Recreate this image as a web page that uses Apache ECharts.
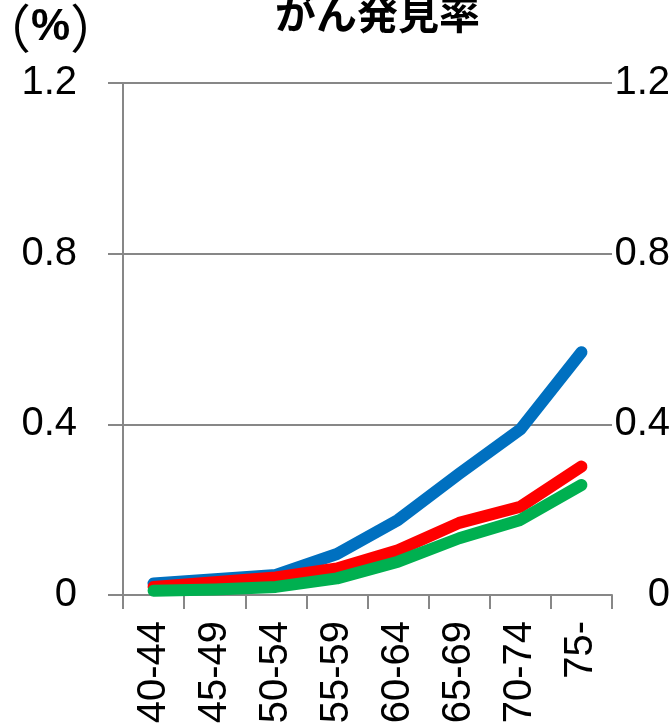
<!DOCTYPE html>
<html>
<head>
<meta charset="utf-8">
<script src="https://cdn.jsdelivr.net/npm/echarts@6/dist/echarts.min.js"></script>
<style>
html,body{margin:0;padding:0;background:#fff;}
#c{width:672px;height:723px;}
</style>
</head>
<body>
<div id="c"></div>
<script>
const categories = ['40-44','45-49','50-54','55-59','60-64','65-69','70-74','75-'];
const blueValues = [0.027,0.037,0.047,0.096,0.176,0.284,0.388,0.569];
const redValues = [0.019,0.030,0.041,0.062,0.105,0.169,0.207,0.301];
const greenValues = [0.010,0.013,0.019,0.039,0.078,0.133,0.176,0.258];
const seriesNames = ['系列1','系列2','系列3'];
const seriesColors = ['#0070C0','#FF0000','#00B050'];
const titleText = 'がん発見率';
const unitOpen = '（';
const unitSign = '%';
const unitClose = '）';

const chart = echarts.init(document.getElementById('c'));
const fmt = v => v === 0 ? '0' : v.toFixed(1);
const axisGray = '#878787';
const labelFont = 'Liberation Sans';

function lineSeries(name, data, color){
  return {
    name: name, type: 'line', data: data, yAxisIndex: 0,
    showSymbol: false, symbol: 'none',
    lineStyle: {width: 12, color: color, cap: 'round', join: 'round'},
    itemStyle: {color: color},
    animation: false
  };
}

chart.setOption({
  animation: false,
  backgroundColor: '#fff',
  title: {
    text: titleText,
    left: 270, top: -12,
    textStyle: {fontFamily: 'Noto Sans CJK JP', fontWeight: 'bold', fontSize: 41, color: '#000'}
  },
  graphic: [{
    type: 'text',
    x: -21, y: 28,
    style: {
      text: '{p|' + unitOpen + '}{b|' + unitSign + '}{p|' + unitClose + '}',
      align: 'left', verticalAlign: 'middle',
      rich: {
        p: {fontFamily: 'Noto Sans CJK JP', fontSize: 52, fill: '#000', verticalAlign: 'middle'},
        b: {fontFamily: 'Liberation Sans', fontWeight: 'bold', fontSize: 44, fill: '#000', verticalAlign: 'middle'}
      }
    }
  }],
  grid: {left: 123, right: 60, top: 83, bottom: 128, containLabel: false, outerBoundsMode: 'none'},
  xAxis: {
    type: 'category',
    data: categories,
    boundaryGap: true,
    axisLine: {show: true, lineStyle: {color: axisGray, width: 2}},
    axisTick: {show: true, length: 14, lineStyle: {color: axisGray, width: 2}},
    axisLabel: {rotate: 90, fontSize: 40, fontFamily: labelFont, color: '#000', margin: 26, interval: 0}
  },
  yAxis: [{
    type: 'value', min: 0, max: 1.2, interval: 0.4, position: 'left',
    axisLine: {show: true, lineStyle: {color: axisGray, width: 2}},
    axisTick: {show: true, length: 15, lineStyle: {color: axisGray, width: 2}},
    axisLabel: {fontSize: 40, fontFamily: labelFont, color: '#000', margin: 46, formatter: fmt},
    splitLine: {show: true, lineStyle: {color: axisGray, width: 2}}
  }, {
    type: 'value', min: 0, max: 1.2, interval: 0.4, position: 'right',
    axisLine: {show: false},
    axisTick: {show: false},
    splitLine: {show: false},
    axisLabel: {fontSize: 40, fontFamily: labelFont, color: '#000', margin: 58, align: 'right', formatter: fmt}
  }],
  series: [
    lineSeries(seriesNames[0], blueValues, seriesColors[0]),
    lineSeries(seriesNames[1], redValues, seriesColors[1]),
    lineSeries(seriesNames[2], greenValues, seriesColors[2])
  ]
});
</script>
</body>
</html>
